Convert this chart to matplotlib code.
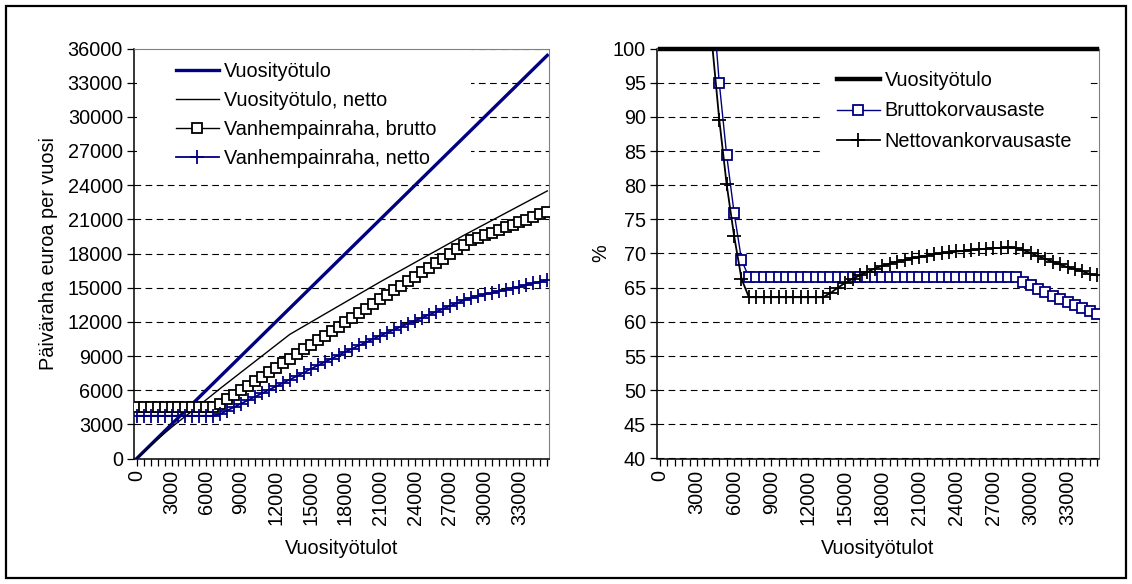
import numpy as np
import matplotlib
matplotlib.use('Agg')
import matplotlib.pyplot as plt
from matplotlib.patches import Rectangle

plt.rcParams['font.family'] = ['Liberation Sans', 'DejaVu Sans']

# x categories: annual earned income (EUR)
tulot = [0, 600, 1200, 1800, 2400, 3000, 3600, 4200, 4800, 5400,
         6000, 6600, 7200, 7800, 8400, 9000, 9600, 10200, 10800, 11400,
         12000, 12600, 13200, 13800, 14400, 15000, 15600, 16200, 16800, 17400,
         18000, 18600, 19200, 19800, 20400, 21000, 21600, 22200, 22800, 23400,
         24000, 24600, 25200, 25800, 26400, 27000, 27600, 28200, 28800, 29400,
         30000, 30600, 31200, 31800, 32400, 33000, 33600, 34200, 34800, 35400]
tick_labels = [str(t) if i % 5 == 0 else '' for i, t in enumerate(tulot)]

# left chart series (EUR per year)
vuosityotulo = list(tulot)
vuosityotulo_netto = [0, 565, 1125, 1680, 2220, 2740, 3230, 3710, 4185, 4680,
                      5165, 5655, 6150, 6625, 7100, 7575, 8050, 8525, 9000, 9475,
                      9950, 10425, 10900, 11255, 11610, 11965, 12320, 12675, 13030, 13385,
                      13740, 14095, 14450, 14805, 15160, 15515, 15855, 16195, 16535, 16875,
                      17215, 17555, 17895, 18235, 18575, 18915, 19255, 19595, 19920, 20245,
                      20570, 20895, 21220, 21545, 21870, 22195, 22520, 22845, 23170, 23495]
vraha_brutto = [4560, 4560, 4560, 4560, 4560, 4560, 4560, 4560, 4560, 4560,
                4560, 4560, 4788, 5187, 5586, 5985, 6384, 6783, 7182, 7581,
                7980, 8379, 8778, 9177, 9576, 9975, 10374, 10773, 11172, 11571,
                11970, 12369, 12768, 13167, 13566, 13965, 14364, 14763, 15162, 15561,
                15960, 16359, 16758, 17157, 17556, 17955, 18354, 18753, 19152, 19380,
                19608, 19836, 20064, 20292, 20520, 20748, 20976, 21204, 21432, 21660]
vraha_netto = [3750, 3750, 3750, 3750, 3750, 3750, 3750, 3750, 3750, 3750,
               3750, 3750, 3911, 4214, 4516, 4818, 5120, 5422, 5724, 6026,
               6328, 6630, 6932, 7226, 7547, 7861, 8168, 8467, 8769, 9075,
               9371, 9655, 9942, 10215, 10506, 10783, 11051, 11320, 11575, 11846,
               12102, 12359, 12616, 12874, 13133, 13392, 13633, 13893, 14103, 14273,
               14420, 14543, 14684, 14823, 14959, 15093, 15246, 15398, 15524, 15695]

# right chart series (%)
nan = float('nan')
tulo_pct = [100] * 60
brutto_pct = [nan, 760.0, 380.0, 253.3, 190.0, 152.0, 126.7, 108.6, 95.0, 84.4,
              76.0, 69.1, 66.5, 66.5, 66.5, 66.5, 66.5, 66.5, 66.5, 66.5,
              66.5, 66.5, 66.5, 66.5, 66.5, 66.5, 66.5, 66.5, 66.5, 66.5,
              66.5, 66.5, 66.5, 66.5, 66.5, 66.5, 66.5, 66.5, 66.5, 66.5,
              66.5, 66.5, 66.5, 66.5, 66.5, 66.5, 66.5, 66.5, 66.5, 65.9,
              65.4, 64.8, 64.3, 63.8, 63.3, 62.9, 62.4, 62.0, 61.6, 61.2]
netto_pct = [nan, 663.7, 333.3, 223.2, 168.9, 136.9, 116.1, 101.1, 89.6, 80.1,
             72.6, 66.3, 63.6, 63.6, 63.6, 63.6, 63.6, 63.6, 63.6, 63.6,
             63.6, 63.6, 63.6, 64.2, 65.0, 65.7, 66.3, 66.8, 67.3, 67.8,
             68.2, 68.5, 68.8, 69.0, 69.3, 69.5, 69.7, 69.9, 70.0, 70.2,
             70.3, 70.4, 70.5, 70.6, 70.7, 70.8, 70.8, 70.9, 70.8, 70.5,
             70.1, 69.6, 69.2, 68.8, 68.4, 68.0, 67.7, 67.4, 67.0, 66.8]

navy = '#000080'
fs = 14.3
W, H = 1132, 584
fig = plt.figure(figsize=(W / 100, H / 100), dpi=100)

def box(x0, y0, x1, y1):
    return [x0 / W, 1 - y1 / H, (x1 - x0) / W, (y1 - y0) / H]

def style(ax, yticks):
    ax.set_yticks(yticks)
    ax.set_xticks(range(len(tulot)))
    ax.set_xticklabels(tick_labels, rotation=90, fontsize=fs)
    ax.tick_params(axis='y', direction='out', length=5, width=0.9, labelsize=fs, pad=3)
    ax.tick_params(axis='x', direction='out', length=5, width=0.9, pad=3)
    ax.grid(axis='y', color='black', linestyle=(0, (6, 4)), linewidth=0.8)
    ax.set_axisbelow(True)
    for s in ['top', 'right']:
        ax.spines[s].set_color('#808080')
    for s in ['left', 'bottom']:
        ax.spines[s].set_color('black')
        ax.spines[s].set_linewidth(1.1)
    ax.set_xlabel('Vuosityötulot', fontsize=fs, labelpad=10)

x = np.arange(len(tulot))
leg_kw = dict(frameon=False, fontsize=fs, handlelength=2.15, handletextpad=0.25,
              borderaxespad=0, bbox_transform=fig.transFigure, loc='upper left')

# ---- left chart
ax1 = fig.add_axes(box(134, 48.5, 548.5, 458.5))
ax1.plot(x, vuosityotulo, color=navy, lw=2.4, label='Vuosityötulo', zorder=3)
ax1.plot(x, vuosityotulo_netto, color='black', lw=1.0, label='Vuosityötulo, netto', zorder=3)
ax1.plot(x, vraha_brutto, color='black', lw=1.0, marker='s', ms=6.8, mfc='white',
         mec='black', mew=1.3, label='Vanhempainraha, brutto', zorder=3)
ax1.plot(x, vraha_netto, color=navy, lw=1.3, marker='+', ms=9.5, mew=1.3,
         label='Vanhempainraha, netto', zorder=3)
ax1.set_xlim(-0.39, 59.17)
ax1.set_ylim(0, 36000)
style(ax1, range(0, 36001, 3000))
ax1.set_ylabel('Päiväraha euroa per vuosi', fontsize=fs, labelpad=7)
ax1.add_patch(Rectangle((137 / W, 1 - 168 / H), (471 - 137) / W, 118 / H,
                        transform=fig.transFigure, facecolor='white',
                        edgecolor='none', zorder=1))
leg1 = ax1.legend(bbox_to_anchor=(168 / W, 1 - 54 / H), labelspacing=0.5, **leg_kw)
leg1.set_zorder(2)

# ---- right chart
ax2 = fig.add_axes(box(657, 48.5, 1099, 458.5))
ax2.plot(x, tulo_pct, color='black', lw=3.2, label='Vuosityötulo', zorder=3, clip_on=False)
ax2.plot(x, brutto_pct, color=navy, lw=1.0, marker='s', ms=6.5, mfc='white',
         mec=navy, mew=1.3, label='Bruttokorvausaste', zorder=3)
ax2.plot(x, netto_pct, color='black', lw=1.3, marker='+', ms=9.5, mew=1.3,
         label='Nettovankorvausaste', zorder=3)
ax2.set_xlim(-0.4, 59.24)
ax2.set_ylim(40, 100)
style(ax2, range(40, 101, 5))
ax2.set_ylabel('%', fontsize=fs, labelpad=2)
ax2.add_patch(Rectangle((820 / W, 1 - 166 / H), (1089 - 820) / W, 104 / H,
                        transform=fig.transFigure, facecolor='white',
                        edgecolor='none', zorder=1))
leg2 = ax2.legend(bbox_to_anchor=(829 / W, 1 - 63 / H), labelspacing=0.58, **leg_kw)
leg2.set_zorder(2)

# outer frame
fig.patches.append(Rectangle((6 / W, 6 / H), (1126 - 6) / W, (578 - 6) / H,
                             transform=fig.transFigure, fill=False,
                             edgecolor='black', linewidth=1.6))

fig.savefig('out.png', dpi=100)
